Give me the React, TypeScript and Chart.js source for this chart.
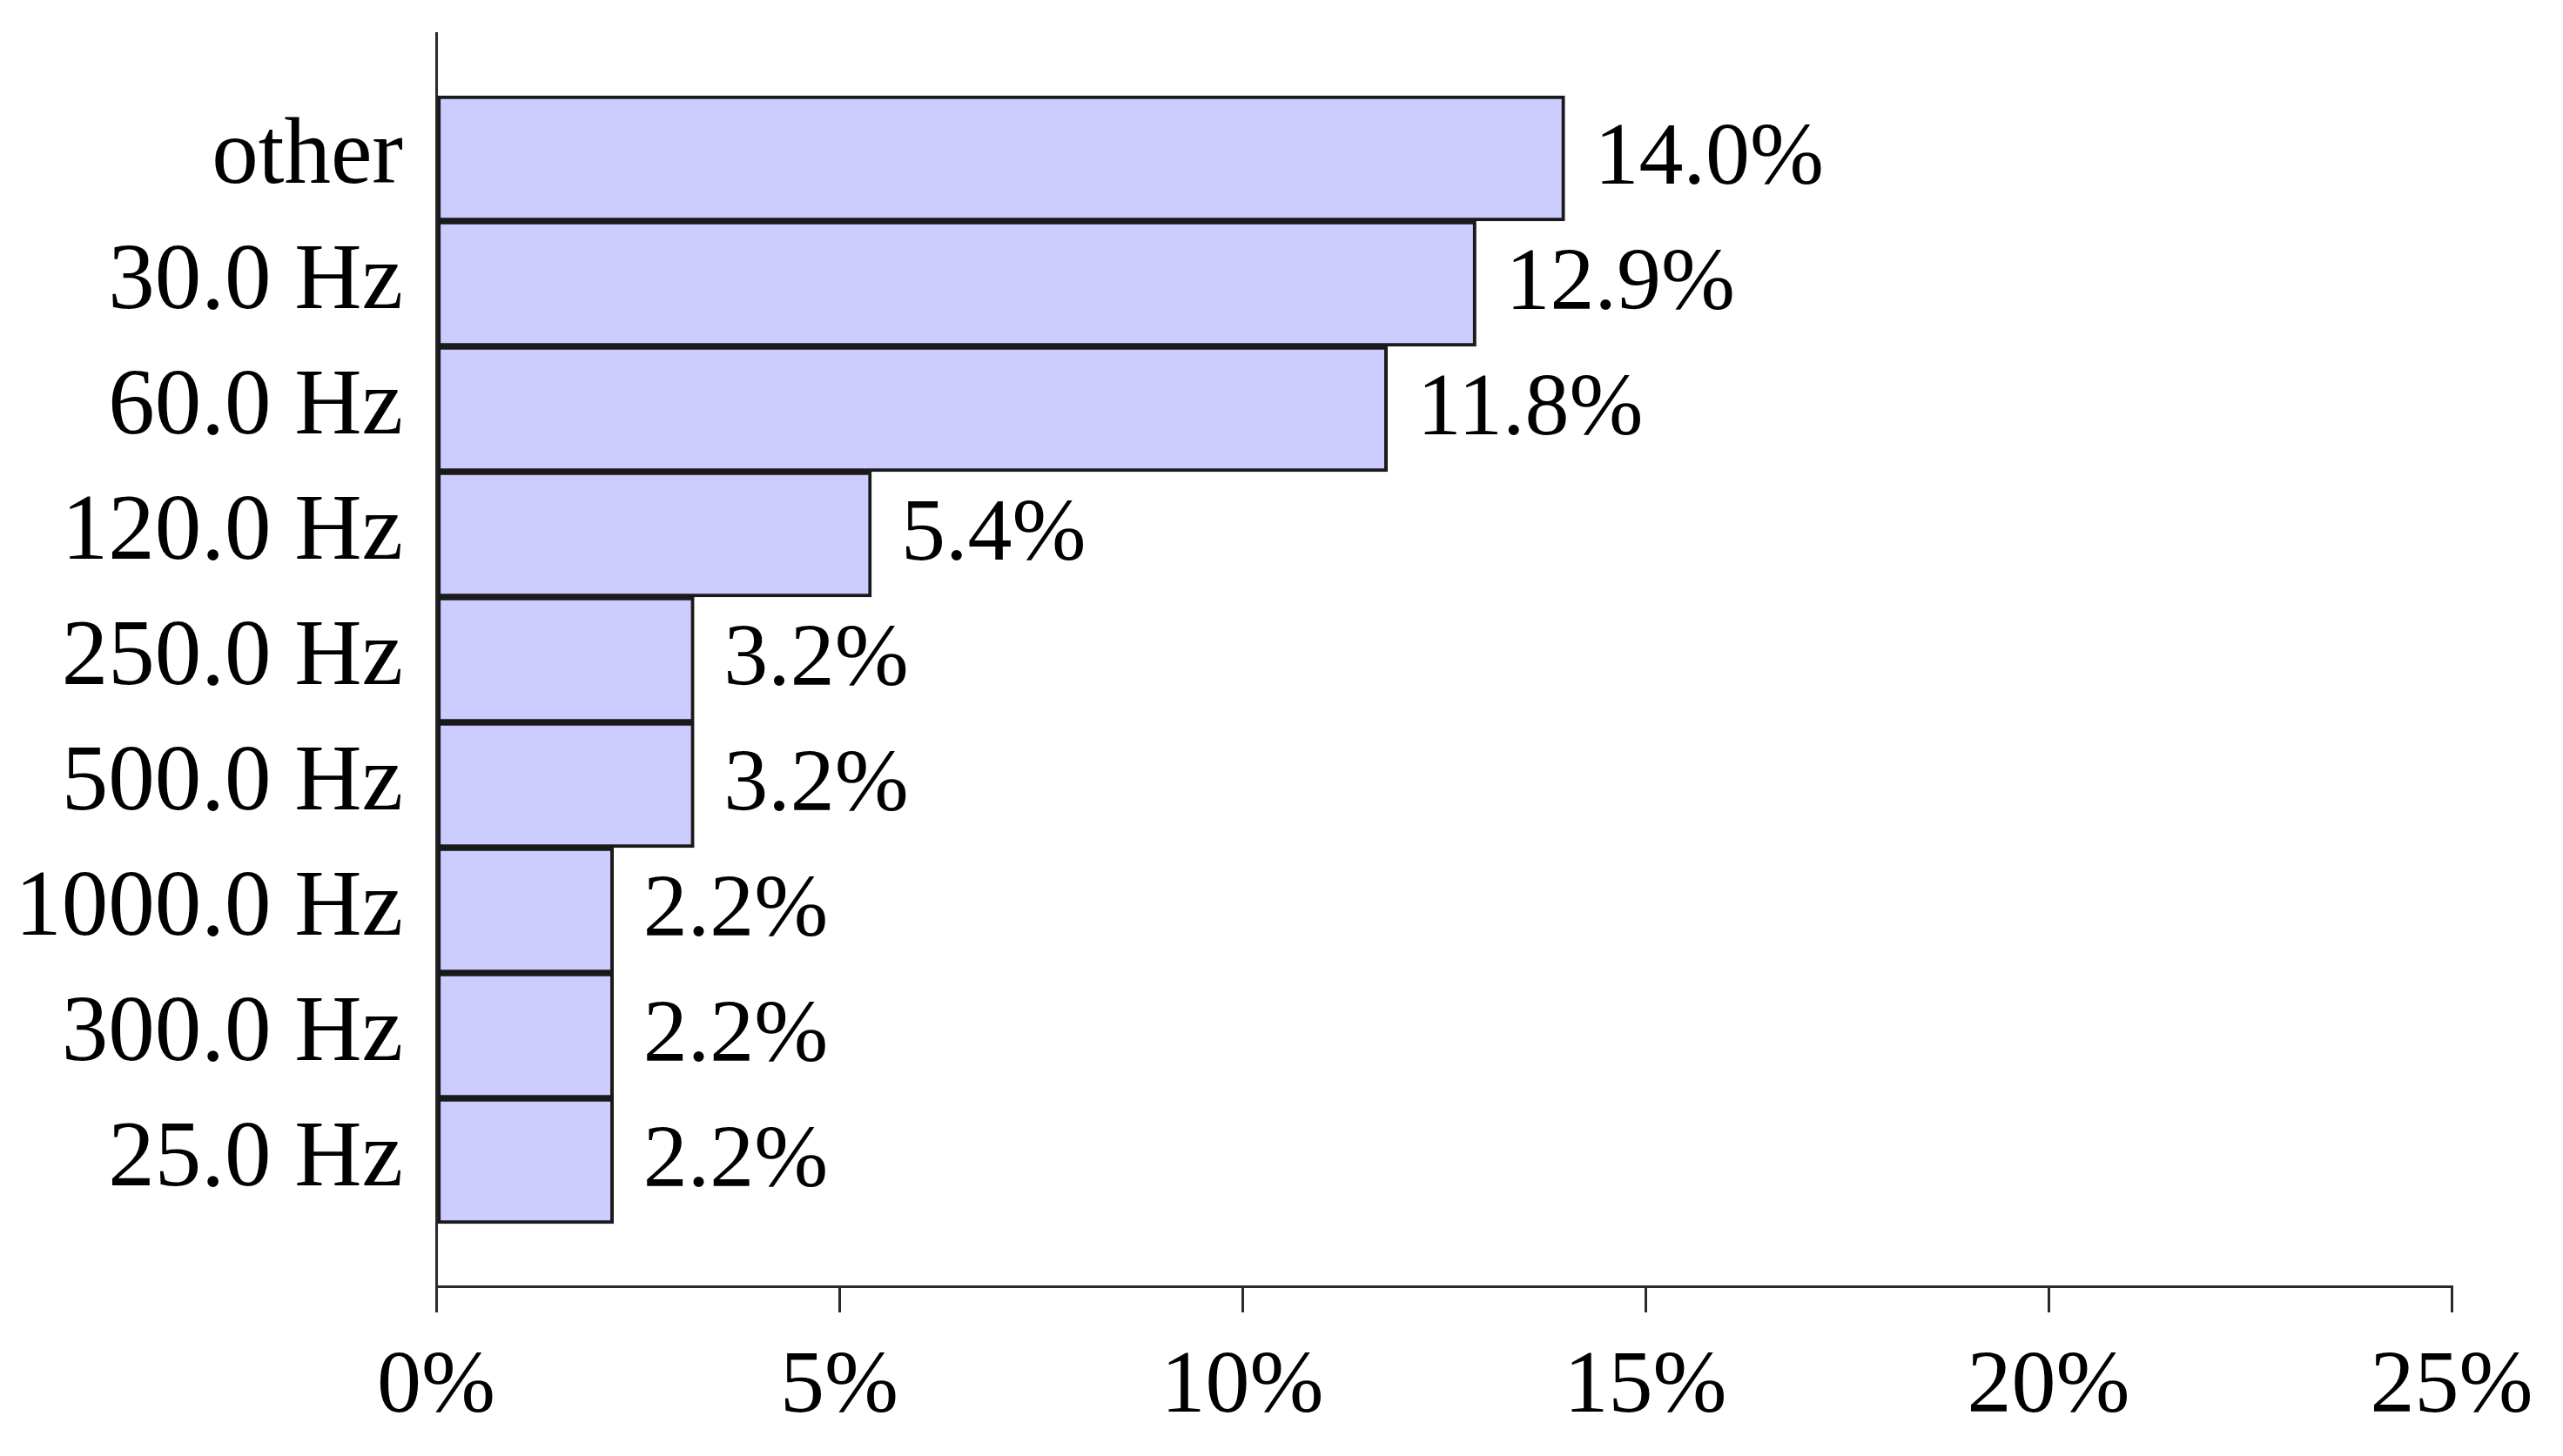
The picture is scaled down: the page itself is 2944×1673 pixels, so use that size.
import React, { useEffect, useRef } from "react";
import { Chart, registerables } from "chart.js";

Chart.register(...registerables);

const categories = [
  "other",
  "30.0 Hz",
  "60.0 Hz",
  "120.0 Hz",
  "250.0 Hz",
  "500.0 Hz",
  "1000.0 Hz",
  "300.0 Hz",
  "25.0 Hz",
];
const shares = [14.0, 12.9, 11.8, 5.4, 3.2, 3.2, 2.2, 2.2, 2.2];
const xTickMax = 25;
const xTickStep = 5;

const W = 2944;
const H = 1673;
const FONT = "'Liberation Serif', 'Times New Roman', serif";
const FONT_SIZE = 102;

export default function App() {
  const ref = useRef<HTMLCanvasElement | null>(null);

  useEffect(() => {
    document.body.style.margin = "0";
    const canvas = ref.current;
    if (!canvas) return;

    // pad with blank slots so the axis extends half a bar beyond the first/last bar
    const labels = ["", ...categories, ""];
    const values = [null, ...shares, null];

    const valueLabels = {
      id: "valueLabels",
      afterDatasetsDraw(chart: any) {
        const ctx = chart.ctx;
        const meta = chart.getDatasetMeta(0);
        ctx.save();
        ctx.font = `${FONT_SIZE}px ${FONT}`;
        ctx.fillStyle = "#000";
        ctx.textAlign = "left";
        ctx.textBaseline = "middle";
        meta.data.forEach((el: any, i: number) => {
          const v = values[i];
          if (v == null) return;
          ctx.fillText(`${v.toFixed(1)}%`, el.x + 34, el.y + 2);
        });
        ctx.restore();
      },
    };

    const chart = new Chart(canvas, {
      type: "bar",
      data: {
        labels,
        datasets: [
          {
            data: values as any,
            backgroundColor: "#ccccff",
            borderColor: "#1a1a1a",
            borderWidth: 4,
            borderSkipped: false,
            categoryPercentage: 1,
            barPercentage: 1,
          },
        ],
      },
      options: {
        indexAxis: "y",
        responsive: false,
        animation: false,
        layout: { padding: { left: 0, top: 38, right: 128, bottom: 0 } },
        plugins: {
          legend: { display: false },
          tooltip: { enabled: false },
        },
        scales: {
          x: {
            type: "linear",
            min: 0,
            max: xTickMax,
            ticks: {
              stepSize: xTickStep,
              color: "#000",
              padding: 26,
              font: { family: FONT, size: FONT_SIZE },
              callback: (v: any) => `${v}%`,
            },
            grid: {
              display: true,
              drawOnChartArea: false,
              drawTicks: true,
              tickLength: 30,
              color: "#2a2a2a",
              lineWidth: 3,
            },
            border: { display: true, color: "#2a2a2a", width: 3 },
            afterFit: (s: any) => {
              s.height = H - 1478;
              s.paddingLeft = 0;
              s.paddingRight = 0;
            },
          },
          y: {
            type: "category",
            offset: false,
            ticks: {
              autoSkip: false,
              color: "#000",
              padding: 38,
              font: { family: FONT, size: 107 },
            },
            grid: { display: false, drawTicks: false },
            border: { display: true, color: "#2a2a2a", width: 3 },
            afterFit: (s: any) => {
              s.width = 501;
              s.paddingTop = 0;
              s.paddingBottom = 0;
            },
          },
        },
      },
      plugins: [valueLabels],
    });

    return () => chart.destroy();
  }, []);

  return (
    <canvas
      ref={ref}
      width={W}
      height={H}
      style={{ display: "block", width: W, height: H }}
    />
  );
}
